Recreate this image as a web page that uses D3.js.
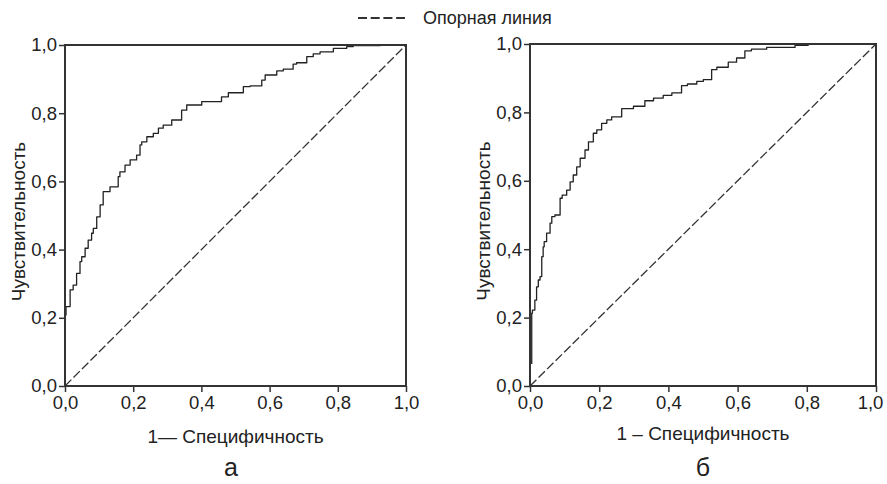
<!DOCTYPE html>
<html><head><meta charset="utf-8">
<script src="https://cdn.jsdelivr.net/npm/d3@7"></script>
<style>
body{margin:0;background:#fff;}
svg text{font-family:"Liberation Sans",Arial,sans-serif;fill:#222;}
</style></head>
<body><svg id="c" width="887" height="484"></svg>
<script>
const ticks = [0, 0.2, 0.4, 0.6, 0.8, 1.0];
const legendLabel = "Опорная линия";
const yTitle = "Чувствительность";
const xTitles = ["1— Специфичность", "1 – Специфичность"];
const panelLabels = ["а", "б"];

const rocA_fpr = [0,0,0.003,0.015,0.024,0.034,0.044,0.049,0.059,0.068,0.078,0.083,0.093,0.103,0.112,0.132,0.156,0.161,0.176,0.191,0.21,0.22,0.225,0.24,0.259,0.274,0.288,0.313,0.342,0.357,0.401,0.459,0.479,0.523,0.543,0.577,0.587,0.621,0.64,0.669,0.679,0.709,0.728,0.748,0.787,0.826,0.845,0.924,1];
const rocA_tpr = [0,0.066,0.208,0.233,0.282,0.296,0.33,0.365,0.379,0.404,0.428,0.448,0.462,0.496,0.531,0.57,0.584,0.614,0.628,0.648,0.663,0.677,0.707,0.716,0.731,0.741,0.756,0.765,0.78,0.809,0.824,0.834,0.848,0.86,0.878,0.88,0.897,0.912,0.924,0.929,0.944,0.948,0.966,0.974,0.98,0.99,0.995,0.998,1];

const rocB_fpr = [0,0,0.005,0.007,0.014,0.019,0.024,0.029,0.034,0.038,0.041,0.048,0.058,0.063,0.072,0.087,0.093,0.106,0.116,0.125,0.135,0.145,0.159,0.169,0.183,0.193,0.207,0.222,0.236,0.265,0.299,0.332,0.357,0.385,0.41,0.438,0.455,0.482,0.501,0.525,0.54,0.573,0.597,0.621,0.64,0.684,0.766,0.804,0.829,1];
const rocB_tpr = [0,0.008,0.066,0.213,0.222,0.251,0.29,0.31,0.32,0.378,0.407,0.422,0.447,0.476,0.495,0.5,0.549,0.558,0.573,0.597,0.617,0.641,0.666,0.69,0.714,0.739,0.749,0.768,0.778,0.787,0.811,0.818,0.834,0.842,0.85,0.857,0.878,0.883,0.891,0.896,0.925,0.932,0.947,0.959,0.98,0.985,0.99,0.996,1.0,1];

const svg = d3.select("#c");
const fmt = d => d3.format(".1f")(d).replace(".", ",");

const panels = [
  {x0:65, x1:406, y0:386, y1:45, fpr:rocA_fpr, tpr:rocA_tpr, xt:xTitles[0], lab:panelLabels[0], ytx:18, xty:443, labx:231, lastDx:0},
  {x0:530, x1:876, y0:386, y1:44, fpr:rocB_fpr, tpr:rocB_tpr, xt:xTitles[1], lab:panelLabels[1], ytx:483, xty:440, labx:703, lastDx:-6}
];

panels.forEach(p => {
  const x = d3.scaleLinear().domain([0,1]).range([p.x0, p.x1]);
  const y = d3.scaleLinear().domain([0,1]).range([p.y0, p.y1]);
  const g = svg.append("g");

  g.append("line").attr("x1", x(0)).attr("y1", y(0)).attr("x2", x(1)).attr("y2", y(1))
    .attr("stroke", "#333").attr("stroke-width", 1.3).attr("stroke-dasharray", "9,3");

  const pts = p.fpr.map((f,i) => [f, p.tpr[i]]);
  g.append("path").datum(pts)
    .attr("d", d3.line().x(d => x(d[0])).y(d => y(d[1])).curve(d3.curveStepBefore))
    .attr("fill", "none").attr("stroke", "#222").attr("stroke-width", 1.3)
    .attr("stroke-linejoin", "round");

  const ax = g.append("g").attr("transform", `translate(0,${p.y0})`)
    .call(d3.axisBottom(x).tickValues(ticks).tickFormat(fmt).tickSize(6).tickPadding(4));
  const ay = g.append("g").attr("transform", `translate(${p.x0},0)`)
    .call(d3.axisLeft(y).tickValues(ticks).tickFormat(fmt).tickSize(6).tickPadding(2));
  [ax, ay].forEach(a => {
    a.attr("font-size", null).attr("font-family", null);
    a.select(".domain").remove();
    a.selectAll("line").attr("stroke", "#333").attr("stroke-width", 1.5);
    a.selectAll("text").style("font-size", "18.5px").attr("fill", "#222");
  });
  ax.selectAll("text").filter(d => d === 1).attr("dx", p.lastDx);

  g.append("rect").attr("x", p.x0).attr("y", p.y1)
    .attr("width", p.x1 - p.x0).attr("height", p.y0 - p.y1)
    .attr("fill", "none").attr("stroke", "#333").attr("stroke-width", 2);

  g.append("text").attr("transform", `translate(${p.ytx},${(p.y0+p.y1)/2 + 6}) rotate(-90)`)
    .attr("text-anchor", "middle").attr("dominant-baseline", "central")
    .style("font-size", "19px").text(yTitle);
  g.append("text").attr("x", (p.x0+p.x1)/2).attr("y", p.xty)
    .attr("text-anchor", "middle").style("font-size", "19px").text(p.xt);
  g.append("text").attr("x", p.labx).attr("y", 476)
    .attr("text-anchor", "middle").style("font-size", "25px").text(p.lab);
});

svg.append("line").attr("x1", 358).attr("x2", 405).attr("y1", 18).attr("y2", 18)
  .attr("stroke", "#333").attr("stroke-width", 2).attr("stroke-dasharray", "9,3.7");
svg.append("text").attr("x", 423).attr("y", 24).style("font-size", "18px").text(legendLabel);
</script></body></html>
